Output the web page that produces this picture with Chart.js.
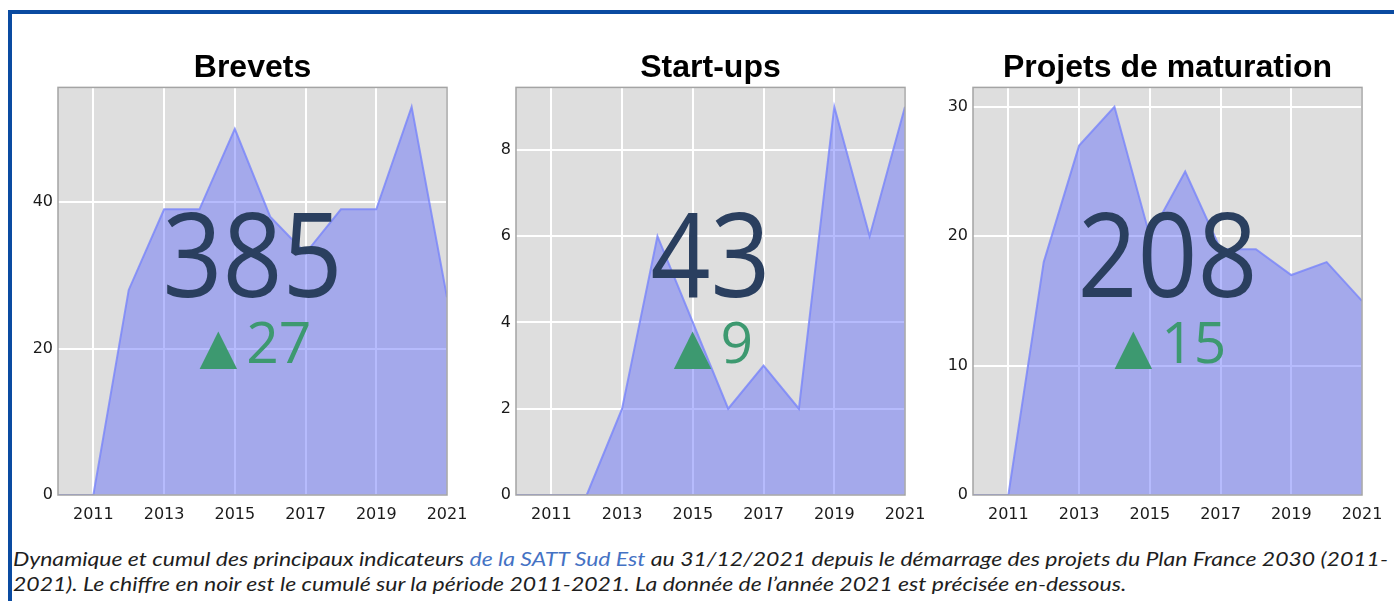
<!DOCTYPE html>
<html>
<head>
<meta charset="utf-8">
<title>Indicateurs SATT Sud Est 2011-2021</title>
<script src="https://cdn.jsdelivr.net/npm/chart.js"></script>
<style>
  body { margin: 0; width: 1394px; height: 601px; background: #fff; overflow: hidden; position: relative; }
  #frame { position: absolute; left: 8px; top: 10px; right: 0; bottom: 0; border-top: 4px solid #0a4ba1; border-left: 4px solid #0a4ba1; }
  .panel { position: absolute; top: 40px; height: 490px; }
  #caption { position: absolute; left: 13px; top: 546px; font-family: Lato, "Liberation Sans", sans-serif; font-style: italic; font-size: 20px; line-height: 25px; color: #1e1e1e; white-space: nowrap; }
  #caption .line { display: block; transform-origin: 0 0; width: max-content; }
  #caption .link { color: #4472c4; }
</style>
</head>
<body>
<div id="frame"></div>
<div class="panel" id="p0"><canvas id="c0"></canvas></div>
<div class="panel" id="p1"><canvas id="c1"></canvas></div>
<div class="panel" id="p2"><canvas id="c2"></canvas></div>
<div id="caption">
  <span class="line">Dynamique et cumul des principaux indicateurs <span class="link">de la SATT Sud Est</span> au 31/12/2021 depuis le démarrage des projets du Plan France 2030 (2011-</span>
  <span class="line">2021). Le chiffre en noir est le cumulé sur la période 2011-2021. La donnée de l’année 2021 est précisée en-dessous.</span>
</div>
<script>
// --- Data ---
const years = [2010, 2011, 2012, 2013, 2014, 2015, 2016, 2017, 2018, 2019, 2020, 2021];
const yearTicks = [2011, 2013, 2015, 2017, 2019, 2021];

const brevets = [0, 0, 28, 39, 39, 50, 38, 33, 39, 39, 53, 27];
const startups = [0, 0, 0, 2, 6, 4, 2, 3, 2, 9, 6, 9];
const maturation = [0, 0, 18, 27, 30, 20, 25, 19, 19, 17, 18, 15];

const titles = ['Brevets', 'Start-ups', 'Projets de maturation'];
const totals = [385, 43, 208];
const latest = [27, 9, 15];
const yTicks = [[0, 20, 40], [0, 2, 4, 6, 8], [0, 10, 20, 30]];
const yMax = [55.65, 9.45, 31.5];

const series = [brevets, startups, maturation];

// panel geometry (page px)
const panels = [
    { left: 14, width: 470, yWidth: 44, padRight: 37 },
    { left: 470, width: 470, yWidth: 46, padRight: 35 },
    { left: 930, width: 464, yWidth: 43, padRight: 32 }
];

// grey plot background, frame, and the big indicator numbers
const plotFrame = {
    id: 'plotFrame',
    beforeDraw(chart) {
        const a = chart.chartArea, ctx = chart.ctx;
        ctx.save();
        ctx.fillStyle = '#dedede';
        ctx.fillRect(a.left, a.top, a.right - a.left, a.bottom - a.top);
        ctx.restore();
    },
    afterDatasetsDraw(chart, args, opts) {
        const a = chart.chartArea, ctx = chart.ctx;
        const h = a.bottom - a.top;
        const cx = (a.left + a.right) / 2;
        ctx.save();
        ctx.strokeStyle = '#a4a4a4';
        ctx.lineWidth = 1.5;
        ctx.strokeRect(a.left, a.top, a.right - a.left, h);

        ctx.textBaseline = 'alphabetic';
        // cumulative total
        ctx.save();
        ctx.textAlign = 'center';
        ctx.translate(cx, a.top + 0.515 * h);
        ctx.scale(1, 1.12);
        ctx.fillStyle = '#2a3f5f';
        ctx.font = '105px "Open Sans"';
        ctx.fillText(String(opts.total), 0, 0);
        ctx.restore();

        // last year value: triangle + number
        const base = a.top + 0.677 * h;
        const tri = '\u25B2', num = String(opts.delta), gap = 9;
        ctx.fillStyle = '#3d9970';
        ctx.textAlign = 'left';
        ctx.font = '49px "DejaVu Sans"';
        const wt = ctx.measureText(tri).width;
        ctx.font = '57px "Open Sans"';
        const wn = ctx.measureText(num).width;
        let x = cx + 3 - (wt + gap + wn) / 2;
        ctx.font = '49px "DejaVu Sans"';
        ctx.fillText(tri, x, base);
        ctx.font = '57px "Open Sans"';
        ctx.fillText(num, x + wt + gap, base);
        ctx.restore();
    }
};

series.forEach((values, i) => {
    const p = panels[i];
    const box = document.getElementById('p' + i);
    box.style.left = p.left + 'px';
    box.style.width = p.width + 'px';
    const canvas = document.getElementById('c' + i);
    canvas.width = p.width;
    canvas.height = 490;

    new Chart(canvas.getContext('2d'), {
        type: 'line',
        data: {
            datasets: [{
                data: years.map((y, k) => ({ x: y, y: values[k] })),
                borderColor: 'rgba(120, 132, 250, 0.8)',
                backgroundColor: 'rgba(99, 110, 250, 0.47)',
                borderWidth: 2,
                pointRadius: 0,
                tension: 0,
                fill: 'origin'
            }]
        },
        options: {
            responsive: false,
            animation: false,
            devicePixelRatio: 1,
            layout: { padding: { left: 0, right: p.padRight, top: 0, bottom: 0 } },
            plugins: {
                legend: { display: false },
                tooltip: { enabled: false },
                title: {
                    display: true,
                    text: titles[i],
                    fullSize: false,
                    color: '#000',
                    font: { family: '"Liberation Sans", Arial', size: 32, weight: 'bold' },
                    padding: { top: 9, bottom: 0 }
                },
                plotFrame: { total: totals[i], delta: latest[i] }
            },
            scales: {
                x: {
                    type: 'linear',
                    min: 2010,
                    max: 2021,
                    afterBuildTicks: s => { s.ticks = yearTicks.map(v => ({ value: v })); },
                    afterFit: s => { s.height = 35; },
                    grid: { color: '#ffffff', lineWidth: 2, drawTicks: false },
                    border: { display: false },
                    ticks: {
                        padding: 10,
                        maxRotation: 0,
                        color: '#1a1a1a',
                        font: { family: '"DejaVu Sans"', size: 16 },
                        callback: v => String(v)
                    }
                },
                y: {
                    min: 0,
                    max: yMax[i],
                    afterBuildTicks: s => { s.ticks = yTicks[i].map(v => ({ value: v })); },
                    afterFit: s => { s.width = p.yWidth; },
                    grid: { color: '#ffffff', lineWidth: 2, drawTicks: false },
                    border: { display: false },
                    ticks: {
                        padding: 5,
                        color: '#1a1a1a',
                        font: { family: '"DejaVu Sans"', size: 16 }
                    }
                }
            }
        },
        plugins: [plotFrame]
    });
});

// squeeze the caption lines to the width of the original wrap
const lines = document.querySelectorAll('#caption .line');
const target = 1375;
const k = target / lines[0].getBoundingClientRect().width;
lines.forEach(l => { l.style.transform = 'scaleX(' + k + ')'; });
</script>
</body>
</html>
